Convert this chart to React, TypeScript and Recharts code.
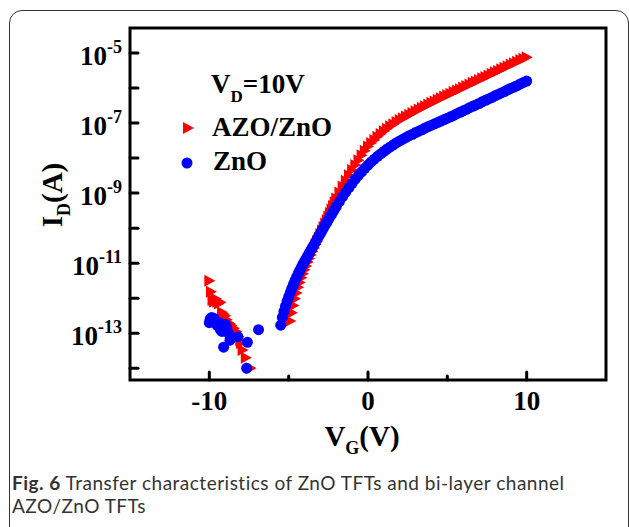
import { ScatterChart, Scatter, XAxis, YAxis, ReferenceArea, Legend } from 'recharts'

const SERIF = '"Liberation Serif", "Times New Roman", serif'
const RED = '#ff0000'
const BLUE = '#0000ff'

// gate voltage (V) and log10 of drain current (A)
const azoVg = [
  -10.0, -9.9, -9.8, -9.7, -9.6, -9.5, -9.4, -9.3, -9.2, -9.1, -9.0, -8.9, -8.8, -8.7, -8.6, -8.45, -8.3, -8.15, -8.05, -8.0, -7.9, -7.7, -7.4,
  -4.9, -4.8, -4.7, -4.6, -4.5, -4.4, -4.3, -4.2, -4.1, -4.0, -3.9, -3.8, -3.7, -3.6, -3.5, -3.4, -3.3, -3.2, -3.1, -3.0,
  -2.9, -2.8, -2.7, -2.6, -2.5, -2.4, -2.3, -2.2, -2.1, -2.0, -1.8, -1.6, -1.4, -1.2, -1.0, -0.8, -0.6, -0.4, -0.2, 0,
  0.2, 0.4, 0.6, 0.8, 1.0, 1.2, 1.4, 1.6, 1.8, 2.0, 2.2, 2.4, 2.6, 2.8, 3.0, 3.2, 3.4, 3.6, 3.8, 4.0, 4.2, 4.4, 4.6, 4.8, 5.0,
  5.2, 5.4, 5.6, 5.8, 6.0, 6.2, 6.4, 6.6, 6.8, 7.0, 7.2, 7.4, 7.6, 7.8, 8.0, 8.2, 8.4, 8.6, 8.8, 9.0, 9.2, 9.4, 9.6, 9.8, 10.0,
]
const azoLogId = [
  -11.5, -11.82, -12.05, -12.1, -12.02, -12.1, -12.15, -12.12, -12.4, -12.45, -12.5, -12.62, -12.7, -12.74, -12.78, -12.86, -12.95, -13.1, -13.2, -13.28, -13.48, -13.7, -14.0,
  -12.65, -12.42, -12.21, -12.02, -11.85, -11.69, -11.55, -11.42, -11.3, -11.19, -11.08, -10.97, -10.87, -10.77, -10.67, -10.57, -10.47, -10.37, -10.27, -10.17,
  -10.07, -9.97, -9.87, -9.77, -9.67, -9.57, -9.47, -9.37, -9.26, -9.15, -8.98, -8.81, -8.65, -8.49, -8.34, -8.2, -8.06, -7.92, -7.79, -7.67,
  -7.57, -7.48, -7.39, -7.31, -7.23, -7.16, -7.09, -7.03, -6.97, -6.91, -6.86, -6.81, -6.76, -6.71, -6.66, -6.61, -6.56, -6.52, -6.47, -6.42, -6.38, -6.33, -6.29, -6.24, -6.2,
  -6.16, -6.11, -6.07, -6.03, -5.98, -5.94, -5.9, -5.85, -5.81, -5.77, -5.72, -5.68, -5.64, -5.59, -5.55, -5.51, -5.46, -5.42, -5.38, -5.33, -5.29, -5.25, -5.2, -5.16, -5.12,
]

const znoVg = [
  -10.0, -9.95, -9.85, -9.7, -9.6, -9.5, -9.4, -9.3, -9.2, -9.1, -9.0, -8.9, -8.8, -8.7, -8.2, -7.6, -7.65, -6.9,
  -5.5, -5.4, -5.3, -5.2, -5.1, -5.0, -4.9, -4.8, -4.7, -4.6, -4.5, -4.4, -4.3, -4.2, -4.1, -4.0, -3.9, -3.8, -3.7, -3.6, -3.5, -3.4, -3.3, -3.2, -3.1, -3.0,
  -2.9, -2.8, -2.7, -2.6, -2.5, -2.4, -2.3, -2.2, -2.1, -2.0, -1.8, -1.6, -1.4, -1.2, -1.0, -0.8, -0.6, -0.4, -0.2, 0,
  0.2, 0.4, 0.6, 0.8, 1.0, 1.2, 1.4, 1.6, 1.8, 2.0, 2.2, 2.4, 2.6, 2.8, 3.0, 3.2, 3.4, 3.6, 3.8, 4.0, 4.2, 4.4, 4.6, 4.8, 5.0,
  5.2, 5.4, 5.6, 5.8, 6.0, 6.2, 6.4, 6.6, 6.8, 7.0, 7.2, 7.4, 7.6, 7.8, 8.0, 8.2, 8.4, 8.6, 8.8, 9.0, 9.2, 9.4, 9.6, 9.8, 10.0,
]
const znoLogId = [
  -12.7, -12.6, -12.55, -12.58, -12.7, -12.78, -12.7, -12.9, -12.95, -13.4, -12.75, -12.85, -13.0, -13.2, -13.1, -13.26, -14.0, -12.9,
  -12.77, -12.55, -12.38, -12.23, -12.09, -11.96, -11.84, -11.72, -11.61, -11.5, -11.4, -11.3, -11.21, -11.12, -11.03, -10.95, -10.87, -10.79, -10.71, -10.63, -10.55, -10.47, -10.39, -10.31, -10.23, -10.15,
  -10.07, -9.99, -9.91, -9.84, -9.76, -9.68, -9.61, -9.53, -9.46, -9.38, -9.24, -9.1, -8.97, -8.84, -8.72, -8.6, -8.49, -8.39, -8.29, -8.2,
  -8.11, -8.03, -7.95, -7.88, -7.81, -7.74, -7.68, -7.62, -7.56, -7.51, -7.46, -7.41, -7.36, -7.32, -7.27, -7.23, -7.19, -7.14, -7.1, -7.06, -7.02, -6.98, -6.94, -6.9, -6.86,
  -6.82, -6.78, -6.73, -6.69, -6.65, -6.61, -6.56, -6.52, -6.48, -6.44, -6.39, -6.35, -6.31, -6.27, -6.22, -6.18, -6.14, -6.1, -6.05, -6.01, -5.97, -5.93, -5.88, -5.84, -5.8,
]

const xTicks = [-10, -5, 0, 5, 10]
const xLabelTicks = [-10, 0, 10]
const yTickExp = [-14, -13, -12, -11, -10, -9, -8, -7, -6, -5]
const yLabelExp = [-13, -11, -9, -7, -5]

const X_DOMAIN: [number, number] = [-15, 15]
const Y_DOMAIN: [number, number] = [4.6e-15, 5.2e-5]

const toRows = (vg: number[], logId: number[]) => vg.map((v, i) => ({ vg: v, id: Math.pow(10, logId[i]) }))
const azoRows = toRows(azoVg, azoLogId)
const znoRows = toRows(znoVg, znoLogId)
const yTicks = yTickExp.map(e => Math.pow(10, e))

function Tri(props: any) {
  const { cx, cy } = props
  return <polygon points={`${cx - 5},${cy - 6} ${cx + 6},${cy} ${cx - 5},${cy + 6}`} fill={RED} />
}

function Dot(props: any) {
  return <circle cx={props.cx} cy={props.cy} r={5.5} fill={BLUE} />
}

function BottomTick(props: any) {
  const { x, y, payload } = props
  const major = xLabelTicks.includes(payload.value)
  return (
    <g>
      <line x1={x} x2={x} y1={y} y2={y - (major ? 8 : 4)} stroke="#000" strokeWidth={3} strokeLinecap="round" />
      {major && (
        <text x={x} y={y + 30} textAnchor="middle" fontFamily={SERIF} fontWeight="bold" fontSize={27} fill="#000">
          {payload.value}
        </text>
      )}
    </g>
  )
}

function TopTick(props: any) {
  const { x, y } = props
  return <line x1={x} x2={x} y1={y} y2={y + 4} stroke="#000" strokeWidth={3} />
}

function LeftTick(props: any) {
  const { x, y, payload } = props
  const e = Math.round(Math.log10(payload.value))
  return (
    <g>
      <line x1={x} x2={x + 8} y1={y} y2={y} stroke="#000" strokeWidth={3} strokeLinecap="round" />
      {yLabelExp.includes(e) && (
        <text x={x - 8} y={y + 12} textAnchor="end" fontFamily={SERIF} fontWeight="bold" fontSize={27} fill="#000">
          10
          <tspan fontSize={18} dy={-12}>{e}</tspan>
        </text>
      )}
    </g>
  )
}

function XTitle(props: any) {
  const vb = props.viewBox
  return (
    <text x={vb.x + vb.width / 2 - 6} y={vb.y + 66} textAnchor="middle" fontFamily={SERIF} fontWeight="bold" fontSize={29} fill="#000">
      V<tspan fontSize={18} dy={8}>G</tspan>
      <tspan dy={-8}>(V)</tspan>
    </text>
  )
}

function YTitle(props: any) {
  const vb = props.viewBox
  const x = vb.x - 8
  const y = vb.y + 167
  return (
    <text x={x} y={y} transform={`rotate(-90 ${x} ${y})`} textAnchor="middle" fontFamily={SERIF} fontWeight="bold" fontSize={29} fill="#000">
      I<tspan fontSize={18} dy={8}>D</tspan>
      <tspan dy={-8}>(A)</tspan>
    </text>
  )
}

function LegendBox() {
  const txt = { fontFamily: SERIF, fontWeight: 'bold' as const, fontSize: 27, fill: '#000' }
  return (
    <svg width={200} height={120} style={{ display: 'block' }}>
      <text x={41} y={33} {...txt}>
        V<tspan fontSize={17} dy={9}>D</tspan>
        <tspan dy={-9}>=10V</tspan>
      </text>
      <Tri cx={18} cy={68} />
      <text x={42} y={76} {...txt}>AZO/ZnO</text>
      <Dot cx={17} cy={103} />
      <text x={43} y={110} {...txt}>ZnO</text>
    </svg>
  )
}

export default function App() {
  return (
    <div style={{ position: 'absolute', left: 0, top: 0, width: 629, height: 527, overflow: 'hidden', background: '#fff' }}>
      <div
        style={{
          position: 'absolute', left: 9, top: 10, width: 618, height: 540,
          border: '1px solid #333', borderRadius: 13,
        }}
      />
      <div style={{ position: 'absolute', left: 0, top: 0 }}>
        <ScatterChart width={629} height={527} margin={{ top: 28, right: 23, bottom: 117, left: 70 }}>
          <XAxis
            xAxisId="b" dataKey="vg" type="number" domain={X_DOMAIN} ticks={xTicks} allowDataOverflow
            height={30} axisLine={false} tickLine={false} tickSize={0} tickMargin={0} tick={<BottomTick />}
            label={<XTitle />}
          />
          <XAxis
            xAxisId="t" orientation="top" dataKey="vg" type="number" domain={X_DOMAIN} ticks={xTicks} allowDataOverflow
            height={0} axisLine={false} tickLine={false} tickSize={0} tickMargin={0} tick={<TopTick />}
          />
          <YAxis
            yAxisId="l" dataKey="id" type="number" scale="log" domain={Y_DOMAIN} ticks={yTicks} allowDataOverflow
            width={60} axisLine={false} tickLine={false} tickSize={0} tickMargin={0} tick={<LeftTick />}
            label={<YTitle />}
          />
          <Legend layout="vertical" align="center" verticalAlign="middle" content={() => <LegendBox />}
            wrapperStyle={{ left: 170, top: 60, width: 200, height: 120 }} />
          <Scatter name="AZO/ZnO" data={azoRows} xAxisId="b" yAxisId="l" fill={RED} shape={Tri} isAnimationActive={false} />
          <Scatter name="ZnO" data={znoRows} xAxisId="b" yAxisId="l" fill={BLUE} shape={Dot} isAnimationActive={false} />
          <ReferenceArea xAxisId="b" yAxisId="l" x1={X_DOMAIN[0]} x2={X_DOMAIN[1]} y1={Y_DOMAIN[0]} y2={Y_DOMAIN[1]}
            fill="none" stroke="#000" strokeWidth={3} ifOverflow="visible" />
        </ScatterChart>
      </div>
      <div
        style={{
          position: 'absolute', left: 12, top: 471, width: 615, whiteSpace: 'nowrap',
          fontFamily: 'Lato, sans-serif', fontSize: 19, lineHeight: '23px', color: '#333', letterSpacing: 0.5,
        }}
      >
        <div><b>Fig. 6</b> Transfer characteristics of ZnO TFTs and bi-layer channel</div>
        <div>AZO/ZnO TFTs</div>
      </div>
    </div>
  )
}
